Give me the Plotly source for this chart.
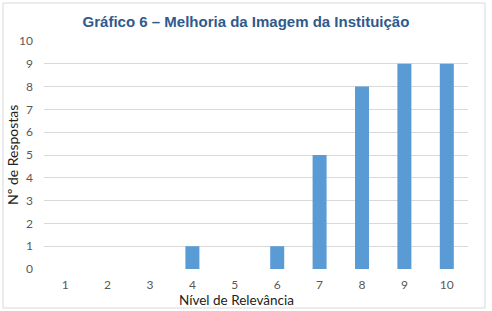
import plotly.graph_objects as go

categories = ["1", "2", "3", "4", "5", "6", "7", "8", "9", "10"]
values = [0, 0, 0, 1, 0, 1, 5, 8, 9, 9]
y_ticks = list(range(0, 11))

fig = go.Figure()
fig.add_trace(go.Bar(x=categories, y=values, marker_color="#5B9BD5",
                     marker_line_width=0, width=0.33))

W, H = 492, 311
L, R, T, B = 44, 24, 41, 42
pw, ph = W - L - R, H - T - B

def px(x):
    return (x - L) / pw

def py(y):
    return (H - B - y) / ph

fig.add_shape(type="rect", xref="paper", yref="paper",
              x0=px(3), x1=px(485), y0=py(308), y1=py(3),
              line=dict(color="#D9D9D9", width=1), fillcolor="rgba(0,0,0,0)", layer="below")

fig.add_annotation(text="Nível de Relevância", xref="paper", yref="paper",
                   x=px(236), y=py(300), xanchor="center", yanchor="middle",
                   showarrow=False, font=dict(family="Lato, Open Sans", size=13.5, color="#222222"))
fig.add_annotation(text="Nº de Respostas", xref="paper", yref="paper",
                   x=px(12), y=py(155), xanchor="center", yanchor="middle", textangle=-90,
                   showarrow=False, font=dict(family="Lato, Open Sans", size=14, color="#222222"))

fig.update_layout(
    width=W, height=H,
    margin=dict(l=L, r=R, t=T, b=B),
    paper_bgcolor="white", plot_bgcolor="white",
    title=dict(text="<b>Gráfico 6 – Melhoria da Imagem da Instituição</b>",
               x=0.5, xref="container", xanchor="center", y=1 - 22 / H, yanchor="middle",
               font=dict(family="Liberation Sans, Arial", size=15, color="#2F5A8C")),
    showlegend=False,
    font=dict(family="Lato, Open Sans", color="#595959"),
)
fig.update_xaxes(
    type="category", automargin=False,
    showgrid=False, showline=False,
    tickfont=dict(size=12, color="#595959"), ticks="", ticklabelstandoff=7,
)
fig.update_yaxes(
    range=[0, 10], tickvals=y_ticks, showgrid=True, gridcolor="#D9D9D9", gridwidth=1,
    zeroline=False, showline=False, automargin=False,
    tickfont=dict(size=12, color="#595959"), ticks="", ticklabelstandoff=10,
)

fig.write_html("out.html")
